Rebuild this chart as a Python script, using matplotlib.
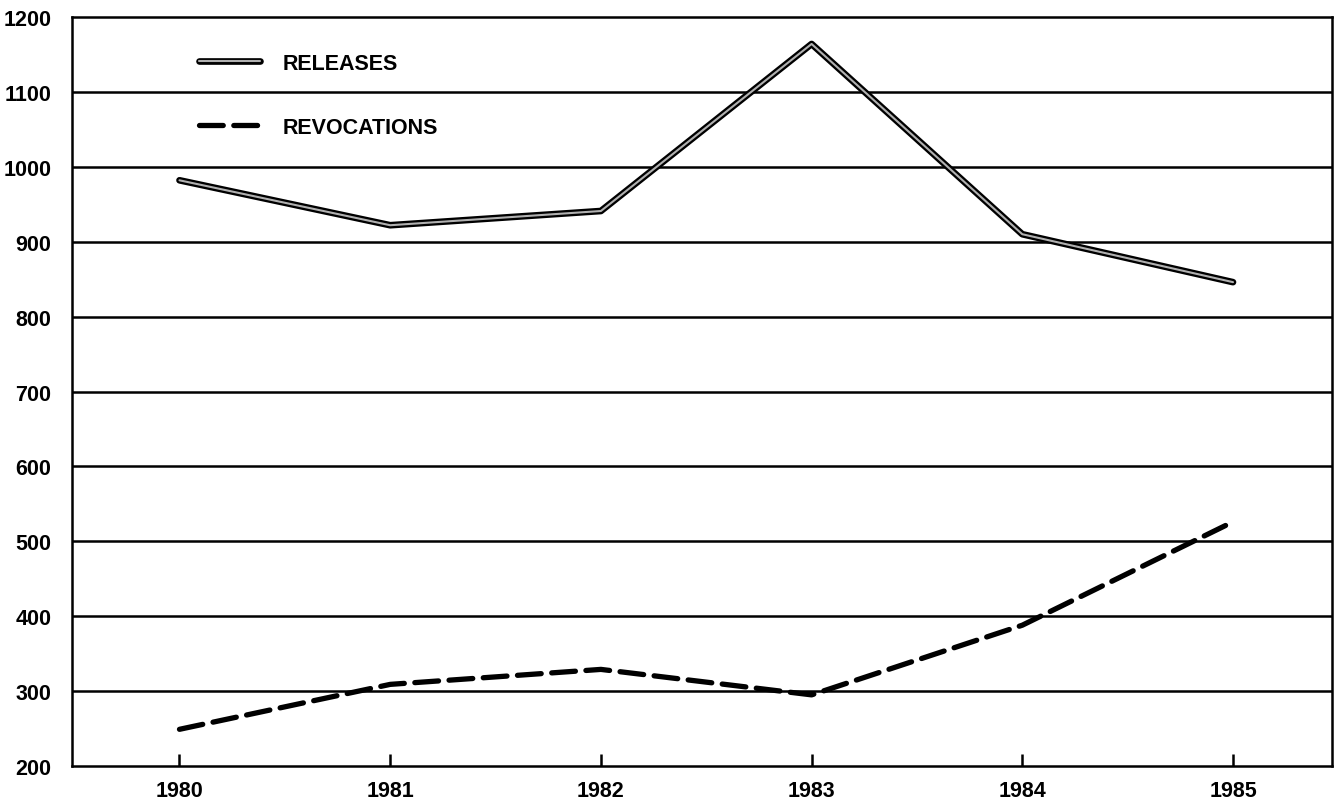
import matplotlib.pyplot as plt
import matplotlib.patheffects as pe

years = [1980, 1981, 1982, 1983, 1984, 1985]
releases = [982, 922, 941, 1164, 910, 846]
revocations = [249, 309, 329, 295, 388, 526]
yticks = list(range(200, 1201, 100))

plt.rcParams['font.family'] = ['Liberation Sans', 'DejaVu Sans']
plt.rcParams['font.weight'] = 'bold'


def main():
    fig = plt.figure(figsize=(13.39, 8.04), dpi=100)
    ax = fig.add_axes([0.0538, 0.046, 0.941, 0.9316])

    for y in yticks[1:-1]:
        ax.axhline(y, color='black', lw=1.8, zorder=1)

    ax.plot(years, releases, color='#b0b0b0', lw=1.5, label='RELEASES',
            solid_joinstyle='round', solid_capstyle='round', zorder=3,
            path_effects=[pe.Stroke(linewidth=4.8, foreground='black'), pe.Normal()])
    ax.plot(years, revocations, color='black', lw=3.8, label='REVOCATIONS',
            dashes=(4.5, 2.0), dash_capstyle='round', zorder=3)

    ax.set_xlim(1979.49, 1985.47)
    ax.set_ylim(200, 1200)
    ax.set_xticks(years)
    ax.set_yticks(yticks)
    ax.tick_params(axis='x', direction='in', length=9, width=1.8, pad=10, labelsize=15.5)
    ax.tick_params(axis='y', length=0, pad=15, labelsize=15.5)
    for s in ax.spines.values():
        s.set_linewidth(1.8)

    ax.legend(loc='upper left', bbox_to_anchor=(0.085, 0.978), frameon=False,
              prop={'size': 15.5, 'weight': 'bold'}, handlelength=2.85,
              handletextpad=1.05, labelspacing=2.0)

    fig.savefig('out.png', dpi=100)


if __name__ == '__main__':
    main()
